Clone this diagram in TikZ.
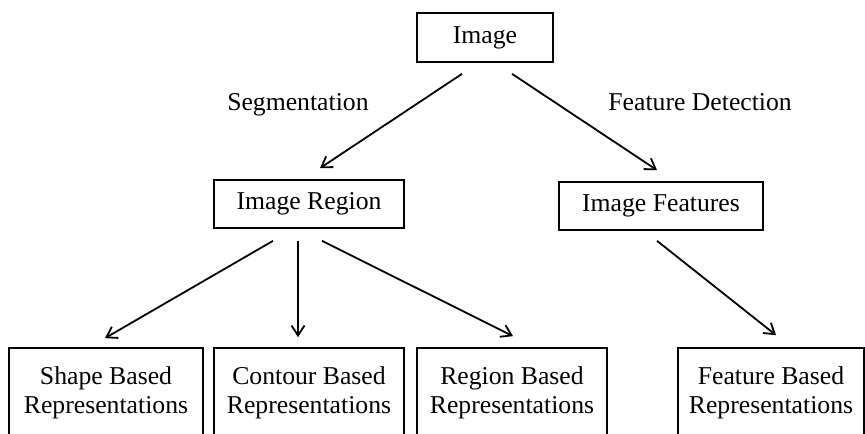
\documentclass[tikz,border=0pt]{standalone}
\usepackage{fontspec}
\setmainfont{Liberation Serif}
\usetikzlibrary{arrows.meta,calc}
\begin{document}
\begin{tikzpicture}[x=0.5pt,y=-0.5pt,
  box/.style={draw,line width=0.85pt,inner sep=0pt,align=center,
    font=\fontsize{12.85}{14.5}\selectfont},
  lbl/.style={inner sep=0pt,font=\fontsize{12.85}{14.5}\selectfont},
  arr/.style={line width=0.9pt,-{Straight Barb[length=5pt,width=6.5pt,line width=0.9pt]}}]
\useasboundingbox (0,0) rectangle (865,433);
\clip (0,0) rectangle (865,433);
\node[box,minimum width=68pt,minimum height=24.5pt] (img) at (485,37.5) {Image};
\node[box,minimum width=95pt,minimum height=24pt] (reg) at (309,204) {Image Region};
\node[box,minimum width=102pt,minimum height=24pt] (feat) at (661,206) {Image Features};
\node[box,minimum width=97pt,minimum height=45pt] (shape) at (106,393) {Shape Based\\Representations};
\node[box,minimum width=95pt,minimum height=45pt] (cont) at (309,393) {Contour Based\\Representations};
\node[box,minimum width=95pt,minimum height=45pt] (regb) at (512,393) {Region Based\\Representations};
\node[box,minimum width=93pt,minimum height=45pt] (featb) at (771,393) {Feature Based\\Representations};
\node[lbl,anchor=base east] (seg) at (369,110) {Segmentation};
\node[lbl,anchor=base west] (fd) at (608,110) {Feature Detection};
\draw[arr] ($(img.south)+(-23,11)$) -- ($(reg.north)+(11,-11)$);
\draw[arr] ($(img.south)+(27,11)$) -- ($(feat.north)+(-4,-11)$);
\draw[arr] ($(reg.south)+(-36,12)$) -- ($(shape.north)+(-1,-9)$);
\draw[arr] ($(reg.south)+(-11,12)$) -- ($(cont.north)+(-11,-10)$);
\draw[arr] ($(reg.south)+(13,12)$) -- ($(regb.north)+(1,-11)$);
\draw[arr] ($(feat.south)+(-4,10)$) -- ($(featb.north)+(5,-12)$);
\end{tikzpicture}
\end{document}
